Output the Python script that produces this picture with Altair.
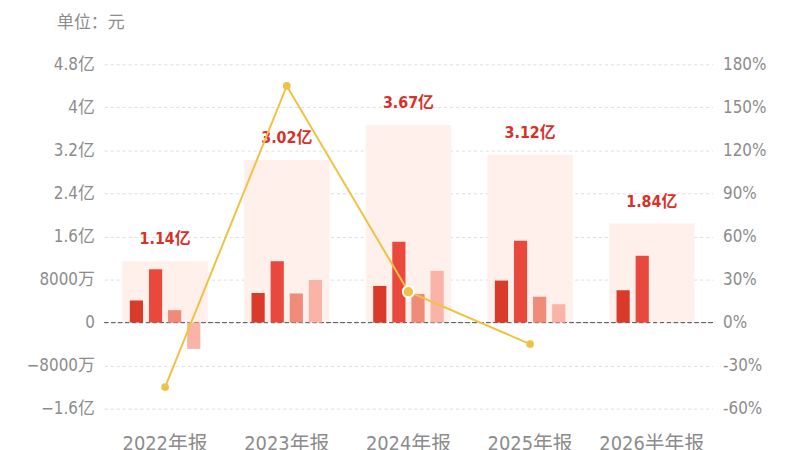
import altair as alt
import pandas as pd

years = ["2022年报", "2023年报", "2024年报", "2025年报", "2026半年报"]
totals = [1.14, 3.02, 3.67, 3.12, 1.84]          # 亿元
q1 = [0.41, 0.55, 0.68, 0.78, 0.60]
q2 = [0.99, 1.14, 1.50, 1.52, 1.24]
q3 = [0.23, 0.54, 0.53, 0.48, None]
q4 = [-0.49, 0.79, 0.96, 0.34, None]
growth = [-45.0, 164.9, 21.5, -15.0, None]        # %
quarter_names = ["Q1", "Q2", "Q3", "Q4"]
quarter_colors = ["#d93a2a", "#e9493c", "#f08a79", "#f9b3a7"]

FONT = "DejaVu Sans Condensed, Noto Sans CJK SC"
GRAY = "#8c8c8c"

tot_df = pd.DataFrame({"year": years, "total": totals,
                       "label": [f"{t:.2f}亿" for t in totals]})
rows = []
for i, y in enumerate(years):
    for qn, vals in zip(quarter_names, [q1, q2, q3, q4]):
        if vals[i] is not None:
            rows.append({"year": y, "q": qn, "v": vals[i]})
q_df = pd.DataFrame(rows)
g_df = pd.DataFrame({"year": years[:4], "g": growth[:4],
                     "hl": [y == "2024年报" for y in years[:4]]})

xscale = alt.Scale(domain=years, paddingInner=0.372, paddingOuter=0.186)
xenc = alt.X("year:N", scale=xscale, sort=years,
             axis=alt.Axis(title=None, labelAngle=0, labelFont=FONT, labelFontSize=20,
                           labelColor=GRAY, labelPadding=25, domain=False, ticks=False))

yscale = alt.Scale(domain=[-1.6, 4.8], nice=False, zero=False)
yaxis = alt.Axis(
    values=[-1.6, -0.8, 0, 0.8, 1.6, 2.4, 3.2, 4, 4.8],
    labelExpr="datum.value == 0 ? '0' : (abs(datum.value) < 1 ? format(datum.value*10000, '.0f') + '万' : format(datum.value, '.2~f') + '亿')",
    labelFont=FONT, labelFontSize=17, labelColor=GRAY, labelPadding=10,
    domain=False, ticks=False, grid=True, gridColor="#dedede", gridDash=[3, 3],
    title="单位：元", titleAngle=0, titleX=-48, titleY=-42, titleAlign="left",
    titleBaseline="middle", titleFont=FONT, titleFontSize=17, titleColor=GRAY,
    titleFontWeight="normal")

bg = alt.Chart(tot_df).mark_bar(color="#fff0ec", width=86).encode(
    x=xenc, y=alt.Y("total:Q", scale=yscale, axis=yaxis))

zero = alt.Chart(tot_df).mark_rule(color="#666666", strokeDash=[4, 3], strokeWidth=1).encode(
    y=alt.datum(0, scale=yscale))

bars = alt.Chart(q_df).mark_bar().encode(
    x=alt.X("year:N", scale=xscale, sort=years),
    xOffset=alt.XOffset("q:N", scale=alt.Scale(domain=quarter_names, paddingInner=0.31, paddingOuter=0.155)),
    y=alt.Y("v:Q", scale=yscale),
    color=alt.Color("q:N", scale=alt.Scale(domain=quarter_names, range=quarter_colors), legend=None))

labels = alt.Chart(tot_df).mark_text(color="#d7322a", fontWeight="bold", fontSize=16,
                                     font=FONT, dy=-22).encode(
    x=alt.X("year:N", scale=xscale, sort=years),
    y=alt.Y("total:Q", scale=yscale), text="label:N")

left = alt.layer(bg, zero, bars, labels)

gscale = alt.Scale(domain=[-60, 180], nice=False, zero=False)
gaxis = alt.Axis(orient="right", values=[-60, -30, 0, 30, 60, 90, 120, 150, 180],
                 labelExpr="datum.value + '%'", labelFont=FONT, labelFontSize=17,
                 labelColor=GRAY, labelPadding=10, domain=False, ticks=False, grid=False,
                 title=None)
LINE = "#efc244"
line = alt.Chart(g_df).mark_line(color=LINE, strokeWidth=2).encode(
    x=alt.X("year:N", scale=xscale, sort=years),
    y=alt.Y("g:Q", scale=gscale, axis=gaxis))
pts = alt.Chart(g_df).mark_point(filled=True, opacity=1, color=LINE).encode(
    x=alt.X("year:N", scale=xscale, sort=years),
    y=alt.Y("g:Q", scale=gscale, axis=gaxis),
    size=alt.condition("datum.hl", alt.value(130), alt.value(60)),
    stroke=alt.condition("datum.hl", alt.value("white"), alt.value(LINE)),
    strokeWidth=alt.condition("datum.hl", alt.value(2), alt.value(0)))
right = alt.layer(line, pts)

chart = alt.layer(left, right).resolve_scale(y="independent").properties(
    width=613, height=347,
    autosize=alt.AutoSizeParams(type="none"),
    padding={"left": 97, "top": 55, "right": 80, "bottom": 40},
).configure_view(stroke=None)

chart.save("out.html", embed_options={"renderer": "svg", "actions": False})
